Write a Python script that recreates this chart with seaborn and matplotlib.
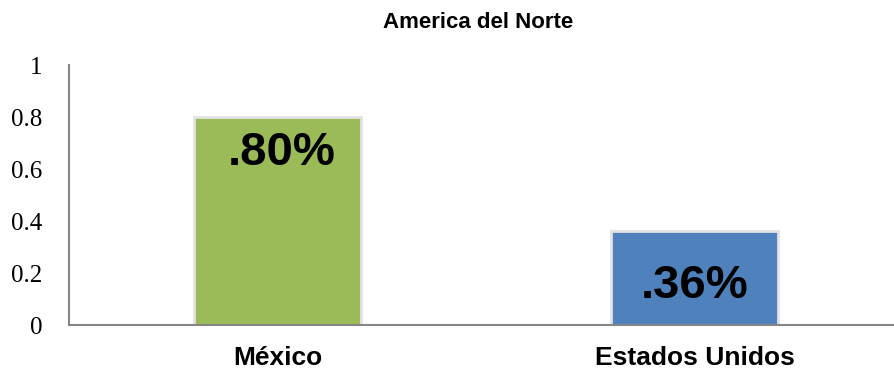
import pandas as pd
import seaborn as sns
import matplotlib.pyplot as plt
from matplotlib.ticker import FixedLocator, NullFormatter

# datos
paises = ["México", "Estados Unidos"]
valores = [0.80, 0.36]
etiquetas = [".80%", ".36%"]
colores = ["#9BBB59", "#4F81BD"]

df = pd.DataFrame({"pais": paises, "valor": valores})

sns.set_style("white")
plt.rcParams['font.family'] = ['Liberation Sans', 'DejaVu Sans']
plt.rcParams['text.color'] = 'black'
plt.rcParams['xtick.labelcolor'] = 'black'
plt.rcParams['ytick.labelcolor'] = 'black'

fig = plt.figure(figsize=(8.94, 3.72), dpi=100)
ax = fig.add_axes([69/894, 1 - 325/372, 834/894, 260/372])

sns.barplot(data=df, x="pais", y="valor", hue="pais", palette=colores, saturation=1,
            width=0.40, edgecolor="#e2e2e2", linewidth=2.0, legend=False, ax=ax)

ax.set_ylim(0, 1)
ax.set_xlim(-0.5, 1.5)
ax.set_yticks([0, 0.2, 0.4, 0.6, 0.8, 1])
ax.set_yticklabels(["0", "0.2", "0.4", "0.6", "0.8", "1"],
                   family=['Liberation Serif'], fontsize=18)

# etiquetas del eje x sin marca, marca entre categorias
ax.set_xticks([0, 1])
ax.set_xticklabels(paises, fontsize=19, fontweight="bold")
ax.tick_params(axis="x", length=0, pad=15)
ax.xaxis.set_minor_locator(FixedLocator([0.5]))
ax.xaxis.set_minor_formatter(NullFormatter())
ax.tick_params(axis="x", which="minor", length=6, width=1.5, color="#868686", direction="out")
ax.tick_params(axis="y", length=6, width=1.5, color="#868686", direction="out", pad=13)

for s in ["top", "right"]:
    ax.spines[s].set_visible(False)
for s in ["left", "bottom"]:
    ax.spines[s].set_color("#868686")
    ax.spines[s].set_linewidth(1.5)

ax.set_xlabel("")
ax.set_ylabel("")

# etiquetas de valor dentro de las barras
ax.text(0.01, valores[0] - 0.138, etiquetas[0], ha="center", va="center",
        fontsize=34, fontweight="bold")
ax.text(1.0, valores[1] - 0.21, etiquetas[1], ha="center", va="center",
        fontsize=34, fontweight="bold")

fig.text(478/894, 1 - 22/372, "America del Norte", ha="center", va="center",
         fontsize=16, fontweight="bold")

fig.savefig("out.png", dpi=100)
